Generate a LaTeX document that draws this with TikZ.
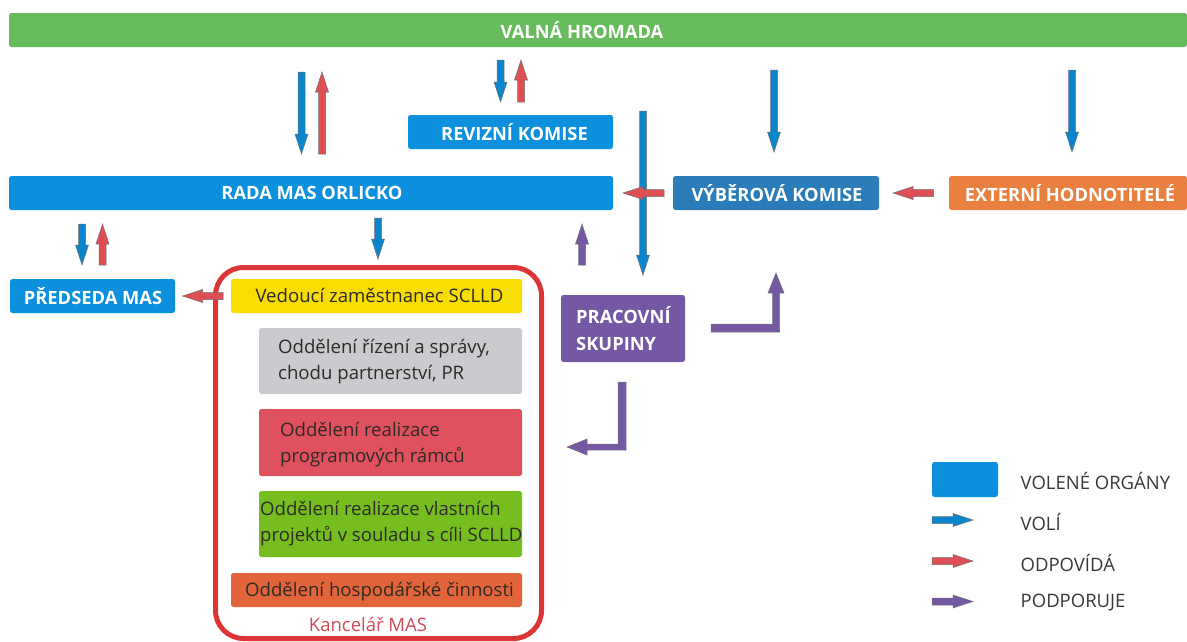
\documentclass[tikz,border=0pt]{standalone}
\usepackage{fontspec}
\setmainfont{Open Sans}
\usetikzlibrary{calc}
\definecolor{cBar}{HTML}{66BB5A}
\definecolor{cBlue}{HTML}{0C8FDC}
\definecolor{cDeep}{HTML}{2A7DB8}
\definecolor{cExt}{HTML}{E9803F}
\definecolor{cPurple}{HTML}{7558A3}
\definecolor{cYellow}{HTML}{F7DE00}
\definecolor{cGrey}{HTML}{C9CBCE}
\definecolor{cRed}{HTML}{E0515E}
\definecolor{cLime}{HTML}{76BE1F}
\definecolor{cOrange}{HTML}{E2643A}
\definecolor{cFrame}{HTML}{DC3535}
\definecolor{aBlue}{HTML}{0A84CC}
\definecolor{aRed}{HTML}{DE4E55}
\definecolor{aPurple}{HTML}{7558A3}
\definecolor{cInk}{HTML}{2E2A25}
\tikzset{
  boxbase/.style={rounded corners=2.5pt,inner sep=0pt,outer sep=0pt,anchor=north west,align=center},
  headlabel/.style={inner sep=0pt,anchor=center,align=left,text=white,font=\fontsize{18.3}{27}\selectfont\bfseries},
  deptlabel/.style={inner sep=0pt,anchor=west,align=left,text=cInk,font=\fontsize{18.6}{26}\selectfont},
  fatline/.style={draw=black!55,line width=0.5pt,line join=miter},
  legendtext/.style={anchor=west,inner sep=0pt,text=black!78,font=\fontsize{18.5}{22}\selectfont},
}
% name, colour, start, end
\newcommand\fatarrow[4]{%
  \coordinate (#1s) at #3;
  \coordinate (#1e) at #4;
  \coordinate (#1h) at ($(#1e)!20pt!(#1s)$);
  \draw[fatline,fill=#2]
    ($(#1s)!3.5pt!90:(#1e)$) -- ($(#1h)!3.5pt!90:(#1e)$) -- ($(#1h)!6.5pt!90:(#1e)$)
    -- (#1e)
    -- ($(#1h)!6.5pt!-90:(#1e)$) -- ($(#1h)!3.5pt!-90:(#1e)$) -- ($(#1s)!3.5pt!-90:(#1e)$) -- cycle;
}
\begin{document}
\begin{tikzpicture}[x=1pt,y=-1pt]
\useasboundingbox (0,0) rectangle (1187,641);
\fill[white] (0,0) rectangle (1187,641);
% top boxes
\node[boxbase,fill=cBar,minimum width=1178pt,minimum height=34pt] (valna) at (9,13) {};
\node[headlabel] (valnat) at (582,30) {VALNÁ HROMADA};
\node[boxbase,fill=cBlue,minimum width=205pt,minimum height=34pt] (revize) at (408,115) {};
\node[headlabel] (revizet) at (514.5,132) {REVIZNÍ KOMISE};
\node[boxbase,fill=cBlue,minimum width=604pt,minimum height=34pt] (rada) at (9,176) {};
\node[headlabel] (radat) at (312,193) {RADA MAS ORLICKO};
\node[boxbase,fill=cDeep,minimum width=206pt,minimum height=34pt] (vyber) at (673,176) {};
\node[headlabel] (vybert) at (777,193) {VÝBĚROVÁ KOMISE};
\node[boxbase,fill=cExt,minimum width=238pt,minimum height=34pt] (extern) at (949,176) {};
\node[headlabel] (externt) at (1070,193) {EXTERNÍ HODNOTITELÉ};
\node[boxbase,fill=cBlue,minimum width=165pt,minimum height=34pt] (predseda) at (10,279) {};
\node[headlabel] (predsedat) at (93,296) {PŘEDSEDA MAS};
\node[boxbase,fill=cPurple,minimum width=124pt,minimum height=67pt] (prac) at (561,295) {};
\node[headlabel,anchor=west] (pract) at (576,328.5) {PRACOVNÍ\\SKUPINY};
% office frame
\draw[cFrame,line width=5pt,rounded corners=28pt] (215.5,267.5) rectangle (541.5,638.5);
\node[boxbase,fill=cYellow,minimum width=291pt,minimum height=34pt] (ved) at (231,279) {};
\node[deptlabel,anchor=center] (vedt) at (379.5,295.5) {Vedoucí zaměstnanec SCLLD};
\node[boxbase,fill=cGrey,minimum width=263pt,minimum height=66pt] (d1) at (259,328) {};
\node[deptlabel] (d1t) at (278,361.5) {Oddělení řízení a správy,\\chodu partnerství, PR};
\node[boxbase,fill=cRed,minimum width=263pt,minimum height=67pt] (d2) at (259,409) {};
\node[deptlabel] (d2t) at (280,445) {Oddělení realizace\\programových rámců};
\node[boxbase,fill=cLime,minimum width=263pt,minimum height=66pt] (d3) at (259,491) {};
\node[deptlabel] (d3t) at (260,524) {Oddělení realizace vlastních\\projektů v souladu s cíli SCLLD};
\node[boxbase,fill=cOrange,minimum width=291pt,minimum height=34pt] (d4) at (231,573) {};
\node[deptlabel,anchor=center] (d4t) at (379.5,591.5) {Oddělení hospodářské činnosti};
\node[anchor=center,inner sep=0pt,text=cRed!92!black,font=\fontsize{18.5}{22}\selectfont] (kanc) at (368,624) {Kancelář MAS};
% arrows
\fatarrow{a1}{aBlue}{(301.5,72)}{(301.5,154)}
\fatarrow{a2}{aRed}{(322,154)}{(322,72)}
\fatarrow{a3}{aBlue}{(500.5,60)}{(500.5,102)}
\fatarrow{a4}{aRed}{(521,102)}{(521,60)}
\fatarrow{a5}{aBlue}{(774,70)}{(774,152)}
\fatarrow{a6}{aBlue}{(1072,70)}{(1072,152)}
\fatarrow{a7}{aBlue}{(643,111)}{(643,275)}
\fatarrow{a8}{aRed}{(664,193)}{(623,193)}
\fatarrow{a9}{aRed}{(933.5,193)}{(893,193)}
\fatarrow{a10}{aBlue}{(82,224)}{(82,265)}
\fatarrow{a11}{aRed}{(102.5,265)}{(102.5,224)}
\fatarrow{a12}{aBlue}{(378,218)}{(378,259)}
\fatarrow{a13}{aPurple}{(582,265)}{(582,224)}
\fatarrow{a14}{aRed}{(223,296)}{(182.5,296)}
% bent arrows
\draw[fatline,fill=aPurple] (711,324) -- (772.5,324) -- (772.5,293) -- (768,293) -- (776,273) -- (784,293) -- (779.5,293) -- (779.5,332) -- (711,332) -- cycle;
\draw[fatline,fill=aPurple] (618,382) -- (626,382) -- (626,450) -- (587,450) -- (587,455) -- (567,447) -- (587,439) -- (587,444) -- (618,444) -- cycle;
% legend
\node[boxbase,fill=cBlue,minimum width=66pt,minimum height=35pt] (lg) at (932,462) {};
\node[legendtext] (l1) at (1020.5,481) {VOLENÉ ORGÁNY};
\node[legendtext] (l2) at (1020.5,522) {VOLÍ};
\node[legendtext] (l3) at (1020.5,563) {ODPOVÍDÁ};
\node[legendtext] (l4) at (1020.5,603) {PODPORUJE};
\fatarrow{b1}{aBlue}{(932,520)}{(973,520)}
\fatarrow{b2}{aRed}{(932,561)}{(973,561)}
\fatarrow{b3}{aPurple}{(932,601.5)}{(973,601.5)}
\end{tikzpicture}
\end{document}
